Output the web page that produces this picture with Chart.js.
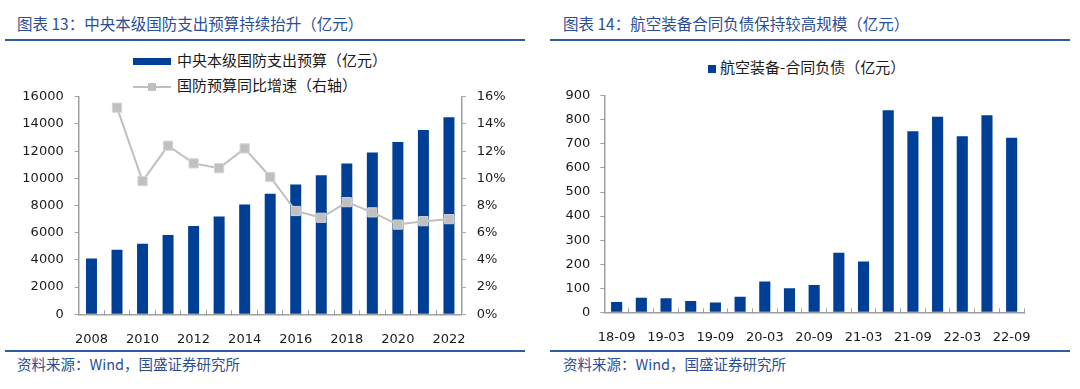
<!DOCTYPE html>
<html>
<head>
<meta charset="utf-8">
<script src="https://cdn.jsdelivr.net/npm/chart.js@4/dist/chart.umd.min.js"></script>
<style>
  body { margin: 0; width: 1080px; height: 389px; background: #fff; position: relative; overflow: hidden;
         font-family: "Noto Sans CJK SC", "DejaVu Sans", sans-serif; }
  .title { position: absolute; top: 12px; font-size: 15.5px; color: #2A4E96; white-space: nowrap; }
  .rule { position: absolute; height: 2px; background: #2E5A9E; }
  .src { position: absolute; top: 353px; font-size: 14.5px; color: #2A4E96; white-space: nowrap; }
  .leg { position: absolute; font-size: 15px; color: #1a1a1a; white-space: nowrap; line-height: 20px; }
  canvas { position: absolute; }
</style>
</head>
<body>

<div class="title" style="left:17px">图表 13：中央本级国防支出预算持续抬升（亿元）</div>
<div class="rule" style="left:5px; width:520px; top:39px"></div>
<div class="title" style="left:563px">图表 14：航空装备合同负债保持较高规模（亿元）</div>
<div class="rule" style="left:550px; width:520px; top:39px"></div>

<!-- 左图图例 -->
<div class="leg" style="left:133px; top:50px">
  <span style="display:inline-block; width:38px; height:7px; background:#003F96; vertical-align:middle; margin-right:6px"></span>中央本级国防支出预算（亿元）
</div>
<div class="leg" style="left:133px; top:75px">
  <span style="display:inline-block; width:38px; height:2px; background:#BFBFBF; vertical-align:middle; margin-right:6px; position:relative">
    <span style="position:absolute; left:15px; top:-3px; width:8px; height:8px; background:#BFBFBF"></span>
  </span>国防预算同比增速（右轴）
</div>

<!-- 右图图例 -->
<div class="leg" style="left:708px; top:57px">
  <span style="display:inline-block; width:8px; height:8px; background:#003F96; vertical-align:middle; margin-right:4px"></span>航空装备-合同负债（亿元）
</div>

<canvas id="budgetChart" style="left:0; top:78px" width="530" height="272"></canvas>
<canvas id="liabilityChart" style="left:540px; top:78px" width="540" height="272"></canvas>

<div class="rule" style="left:5px; width:520px; top:350px"></div>
<div class="rule" style="left:550px; width:520px; top:350px"></div>
<div class="src" style="left:17px">资料来源：Wind，国盛证券研究所</div>
<div class="src" style="left:563px">资料来源：Wind，国盛证券研究所</div>

<script>
// 图表13 数据
const years = ['2008','2009','2010','2011','2012','2013','2014','2015','2016','2017','2018','2019','2020','2021','2022'];
const budget = [4100, 4750, 5190, 5830, 6500, 7200, 8080, 8870, 9540, 10230, 11100, 11900, 12680, 13550, 14500];
const budgetGrowth = [null, 15.2, 9.8, 12.4, 11.1, 10.75, 12.2, 10.1, 7.6, 7.1, 8.25, 7.5, 6.6, 6.85, 7.0];

// 图表14 数据
const quarters = ['18-09','18-12','19-03','19-06','19-09','19-12','20-03','20-06','20-09','20-12','21-03','21-06','21-09','21-12','22-03','22-06','22-09'];
const liability = [43, 60, 58, 47, 41, 65, 128, 100, 113, 248, 211, 840, 753, 813, 732, 819, 726];

const BLUE = '#003F96';
const AXIS = '#A0A0A0';
const TICK_FONT = { family: 'DejaVu Sans', size: 13 };

function fixWidth(w) { return scale => { scale.width = w; }; }
function fixHeight(h) { return scale => { scale.height = h; }; }
function everyOther(labels) {
  return (v, i) => (i % 2 === 0 ? labels[i] : '');
}

Chart.defaults.animation = false;
Chart.defaults.color = '#1a1a1a';

new Chart(document.getElementById('budgetChart'), {
  data: {
    labels: years,
    datasets: [{
      type: 'line',
      label: '国防预算同比增速（右轴）',
      data: budgetGrowth,
      yAxisID: 'y1',
      borderColor: '#BFBFBF',
      borderWidth: 2,
      pointStyle: 'rect',
      pointRadius: 6.5,
      pointBackgroundColor: '#C0C0C0',
      pointBorderColor: '#D4D4D4',
      pointBorderWidth: 1,
      order: 0
    }, {
      type: 'bar',
      label: '中央本级国防支出预算（亿元）',
      data: budget,
      yAxisID: 'y',
      backgroundColor: BLUE,
      barPercentage: 0.86,
      categoryPercentage: 0.5,
      order: 1
    }]
  },
  options: {
    responsive: false,
    layout: { padding: { top: 0.5, left: 0, right: 0, bottom: 0 } },
    plugins: { legend: { display: false }, tooltip: { enabled: false } },
    scales: {
      x: {
        grid: { drawOnChartArea: false, drawTicks: true, tickLength: -4, color: AXIS, offset: true },
        border: { color: AXIS, width: 1.5 },
        ticks: { autoSkip: false, maxRotation: 0, padding: 22, font: TICK_FONT, callback: everyOther(years) },
        afterFit: fixHeight(35.7)
      },
      y: {
        position: 'left',
        min: 0, max: 16000,
        grid: { drawOnChartArea: false, tickLength: 4, color: AXIS },
        border: { color: AXIS, width: 1.5 },
        ticks: { stepSize: 2000, padding: 11, font: TICK_FONT, callback: v => String(v) },
        afterFit: fixWidth(78.7)
      },
      y1: {
        position: 'right',
        min: 0, max: 16,
        grid: { drawOnChartArea: false, tickLength: 4, color: AXIS },
        border: { color: AXIS, width: 1.5 },
        ticks: { stepSize: 2, padding: 11, font: TICK_FONT, callback: v => v + '%' },
        afterFit: fixWidth(68.3)
      }
    }
  }
});

new Chart(document.getElementById('liabilityChart'), {
  type: 'bar',
  data: {
    labels: quarters,
    datasets: [{
      label: '航空装备-合同负债（亿元）',
      data: liability,
      backgroundColor: BLUE,
      barPercentage: 0.9,
      categoryPercentage: 0.5
    }]
  },
  options: {
    responsive: false,
    layout: { padding: { top: 0.5, left: 0, right: 56, bottom: 0 } },
    plugins: { legend: { display: false }, tooltip: { enabled: false } },
    scales: {
      x: {
        grid: { drawOnChartArea: false, drawTicks: true, tickLength: -4, color: AXIS, offset: true },
        border: { color: AXIS, width: 1.5 },
        ticks: { autoSkip: false, maxRotation: 0, padding: 22, font: TICK_FONT, callback: everyOther(quarters) },
        afterFit: fixHeight(37.7)
      },
      y: {
        min: 0, max: 900,
        grid: { drawOnChartArea: false, tickLength: 4, color: AXIS },
        border: { color: AXIS, width: 1.5 },
        ticks: { stepSize: 100, padding: 10, font: TICK_FONT },
        afterFit: fixWidth(64.3)
      }
    }
  }
});
</script>
</body>
</html>
